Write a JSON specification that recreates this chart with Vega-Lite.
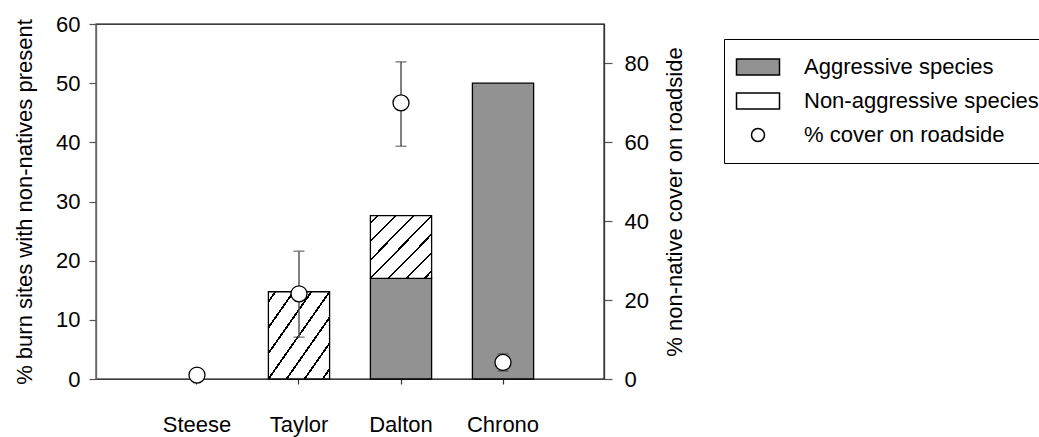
{
  "$schema": "https://vega.github.io/schema/vega-lite/v6.json",
  "width": 508,
  "height": 355,
  "autosize": {"type": "none"},
  "padding": {"left": 96, "top": 24, "right": 435, "bottom": 58},
  "background": "white",
  "config": {
    "font": "Liberation Sans",
    "view": {"stroke": "black", "strokeWidth": 1.3},
    "axis": {
      "labelFont": "Liberation Sans",
      "labelFontSize": 22,
      "titleFont": "Liberation Sans",
      "titleFontSize": 22,
      "titleFontWeight": "normal",
      "labelColor": "black",
      "titleColor": "black",
      "grid": false,
      "domainColor": "#666666",
      "tickColor": "#555555",
      "domainWidth": 1.3,
      "tickWidth": 1.2
    },
    "legend": {
      "labelFont": "Liberation Sans",
      "labelFontSize": 22,
      "labelColor": "black",
      "labelLimit": 400,
      "symbolSize": 400,
      "symbolOffset": 6,
      "labelOffset": 35,
      "rowPadding": 12,
      "padding": 17,
      "strokeColor": "black",
      "fillColor": "white",
      "cornerRadius": 0
    }
  },
  "datasets": {
    "bars": [
      {"site": "Taylor", "type": "Non-aggressive species", "value": 14.75},
      {"site": "Dalton", "type": "Aggressive species", "value": 17.0},
      {"site": "Dalton", "type": "Non-aggressive species", "value": 10.6},
      {"site": "Chrono", "type": "Aggressive species", "value": 50.0}
    ],
    "cover": [
      {"site": "Steese", "type": "% cover on roadside", "cover": 1.0, "lo": null, "hi": null},
      {"site": "Taylor", "type": "% cover on roadside", "cover": 21.6, "lo": 10.6, "hi": 32.4},
      {"site": "Dalton", "type": "% cover on roadside", "cover": 70.0, "lo": 59.0, "hi": 80.4},
      {"site": "Chrono", "type": "% cover on roadside", "cover": 4.2, "lo": 2.0, "hi": 6.4}
    ]
  },
  "layer": [
    {
      "data": {"name": "bars"},
      "mark": {"type": "bar", "stroke": "black", "strokeWidth": 1.3},
      "encoding": {
        "x": {
          "field": "site",
          "type": "nominal",
          "sort": null,
          "scale": {"domain": ["Steese", "Taylor", "Dalton", "Chrono"], "paddingInner": 0.4, "paddingOuter": 0.69},
          "axis": {"title": null, "labelAngle": 0, "tickSize": 5, "tickColor": "#333333", "labelPadding": 30, "domain": false}
        },
        "y": {
          "field": "value",
          "type": "quantitative",
          "stack": "zero",
          "scale": {"domain": [0, 60], "nice": false},
          "axis": {"title": "% burn sites with non-natives present", "values": [0, 10, 20, 30, 40, 50, 60], "tickSize": 7, "labelPadding": 9, "titlePadding": 19}
        },
        "order": {"field": "type", "sort": "ascending"},
        "fill": {
          "field": "type",
          "type": "nominal",
          "scale": {
            "domain": ["Aggressive species", "Non-aggressive species", "% cover on roadside"],
            "range": ["#929292", "white", "white"]
          },
          "condition": {
            "test": "datum.type === 'Non-aggressive species'",
            "value": {"gradient": "linear", "x1": 0, "y1": 0, "x2": 1, "y2": 1, "stops": [
              {"offset": 0, "color": "white"},
              {"offset": 0.0485, "color": "white"}, {"offset": 0.0485, "color": "black"}, {"offset": 0.0665, "color": "black"}, {"offset": 0.0665, "color": "white"},
              {"offset": 0.196, "color": "white"}, {"offset": 0.196, "color": "black"}, {"offset": 0.214, "color": "black"}, {"offset": 0.214, "color": "white"},
              {"offset": 0.3435, "color": "white"}, {"offset": 0.3435, "color": "black"}, {"offset": 0.3615, "color": "black"}, {"offset": 0.3615, "color": "white"},
              {"offset": 0.491, "color": "white"}, {"offset": 0.491, "color": "black"}, {"offset": 0.509, "color": "black"}, {"offset": 0.509, "color": "white"},
              {"offset": 0.6385, "color": "white"}, {"offset": 0.6385, "color": "black"}, {"offset": 0.6565, "color": "black"}, {"offset": 0.6565, "color": "white"},
              {"offset": 0.786, "color": "white"}, {"offset": 0.786, "color": "black"}, {"offset": 0.804, "color": "black"}, {"offset": 0.804, "color": "white"},
              {"offset": 0.9335, "color": "white"}, {"offset": 0.9335, "color": "black"}, {"offset": 0.9515, "color": "black"}, {"offset": 0.9515, "color": "white"},
              {"offset": 1, "color": "white"}
            ]}
          },
          "legend": {
            "title": null, "orient": "none", "legendX": 628, "legendY": 15,
            "encode": {
              "symbols": {
                "update": {
                  "stroke": {"value": "black"},
                  "strokeWidth": {"value": 1},
                  "fill": {
                    "condition": [
                      {"test": "datum.value === 'Aggressive species'", "value": "#929292"},
                      {"test": "datum.value === 'Non-aggressive species'", "value": "url(#gradient_0)"}
                    ],
                    "value": "white"
                  }
                }
              }
            }
          }
        }
      }
    },
    {
      "data": {"name": "cover"},
      "encoding": {
        "x": {"field": "site", "type": "nominal", "sort": null}
      },
      "layer": [
        {
          "mark": {"type": "rule", "color": "#555555", "strokeWidth": 1.5},
          "encoding": {
            "y": {"field": "lo", "type": "quantitative", "scale": {"domain": [0, 90], "nice": false},
                  "axis": {"title": "% non-native cover on roadside", "orient": "right", "values": [0, 20, 40, 60, 80], "tickSize": 8, "labelPadding": 12, "titlePadding": 16, "titleAngle": 270, "titleBaseline": "top", "domainColor": "#333333"}},
            "y2": {"field": "hi"}
          }
        },
        {
          "mark": {"type": "tick", "color": "#555555", "size": 11, "thickness": 1.5, "orient": "horizontal"},
          "encoding": {"y": {"field": "lo", "type": "quantitative"}}
        },
        {
          "mark": {"type": "tick", "color": "#555555", "size": 11, "thickness": 1.5, "orient": "horizontal"},
          "encoding": {"y": {"field": "hi", "type": "quantitative"}}
        },
        {
          "mark": {"type": "point", "filled": true, "stroke": "black", "strokeWidth": 1.3, "size": 606, "opacity": 1},
          "encoding": {
            "y": {"field": "cover", "type": "quantitative"},
            "fill": {"field": "type", "type": "nominal"},
            "shape": {
              "field": "type",
              "type": "nominal",
              "scale": {
                "domain": ["Aggressive species", "Non-aggressive species", "% cover on roadside"],
                "range": ["M-2.15,-0.8H2.15V0.8H-2.15Z", "M-2.15,-0.8H2.15V0.8H-2.15Z", "M0.65,0A0.65,0.65,0,1,1,-0.65,0A0.65,0.65,0,1,1,0.65,0Z"]
              },
              "legend": {"title": null, "orient": "none", "legendX": 628, "legendY": 15}
            }
          }
        }
      ]
    }
  ],
  "resolve": {"scale": {"y": "independent"}}
}
